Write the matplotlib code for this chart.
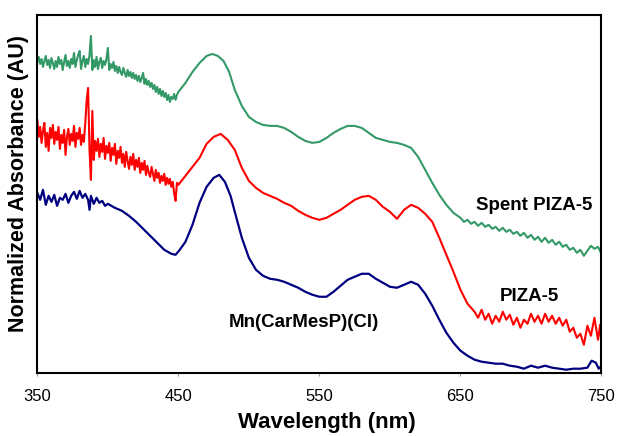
import matplotlib
matplotlib.use("Agg")
import matplotlib.pyplot as plt

plt.rcParams['font.family'] = ['Liberation Sans', 'DejaVu Sans']

# ---- data (wavelength in nm, normalized absorbance in arbitrary units) ----
spent_wl = list(range(350, 451)) + [
    455, 460, 465, 470, 474, 478, 482, 486,
    490, 495, 500, 505, 510, 515, 520, 525, 530, 535, 540, 545, 550, 555, 560,
    565, 570, 575, 580, 585, 590, 595, 600, 605, 610, 615, 620, 625, 630, 635,
    640, 645, 650, 652.5, 655, 657.5, 660, 662.5, 665, 667.5, 670, 672.5, 675,
    677.5, 680, 682.5, 685, 687.5, 690, 692.5, 695, 697.5, 700, 702.5, 705,
    707.5, 710, 712.5, 715, 717.5, 720, 722.5, 725, 727.5, 730, 732.5, 735,
    737.5, 740, 742.5, 745, 747.5, 750]
spent_abs = [
    311, 316, 309, 314, 306, 312, 317, 308, 313, 305, 315, 310, 304, 312, 306, 316,
    309, 313, 303, 311, 318, 307, 312, 305, 314, 309, 320, 306, 313, 318, 322, 304,
    312, 317, 306, 314, 309, 318, 337, 303, 313, 306, 316, 304, 311, 315, 305, 312,
    308, 314, 325, 303, 309, 305, 311, 302, 307, 300, 306, 301, 298, 305, 300, 296,
    303, 297, 301, 295, 300, 294, 298, 292, 297, 291, 295, 300, 289, 294, 288, 292,
    286, 290, 284, 288, 281, 286, 279, 284, 277, 282, 276, 280, 273, 278, 271, 276,
    274, 279, 273, 278, 281,
    290, 301, 310, 317, 319, 317, 312, 301,
    283, 267, 256, 251, 248, 247, 247, 245, 241, 236, 232, 230, 231, 235, 240,
    244, 247, 247, 245, 240, 235, 233, 231, 230, 228, 225, 216, 203, 190, 178,
    168, 160, 155, 151, 153, 149, 151, 147, 150, 146, 148, 144, 146,
    142, 145, 141, 143, 139, 141, 137, 140, 135, 138, 133, 136,
    131, 135, 130, 133, 128, 131, 126, 128, 123, 125, 120, 123,
    117, 122, 127, 124, 126, 119]

piza_wl = list(range(350, 451)) + [
    455, 460, 465, 470,
    475, 480, 485, 490, 495, 500, 505, 510, 515, 520, 525, 530, 535, 540, 545,
    550, 555, 560, 565, 570, 575, 580, 585, 590, 595, 600, 605, 610, 615, 620,
    625, 630, 635, 640, 645, 650, 655, 660, 662.5, 665, 667.5, 670, 672.5, 675,
    677.5, 680, 682.5, 685, 687.5, 690, 692.5, 695, 697.5, 700, 702.5, 705,
    707.5, 710, 712.5, 715, 717.5, 720, 722.5, 725, 727.5, 730, 732.5, 735,
    737.5, 740, 742.5, 745, 747.5, 749, 750]
piza_abs = [
    253, 236, 246, 230, 242, 250, 226, 240, 222, 245, 235, 248, 229, 241, 233, 246,
    224, 238, 230, 243, 218, 236, 244, 228, 239, 232, 247, 226, 240, 234, 245, 228,
    238, 231, 250, 273, 285, 223, 193, 262, 213, 232, 222, 234, 216, 229, 221, 235,
    214, 227, 220, 230, 212, 225, 218, 229, 209, 222, 215, 226, 210, 219, 206, 221,
    212, 204, 216, 208, 219, 203, 213, 206, 215, 200, 210, 203, 212, 198, 207, 200,
    196, 206, 199, 192, 203, 195, 200, 190, 197, 192, 199, 188, 195, 189, 194, 186,
    191, 180, 172, 190, 188,
    197, 206, 215, 229,
    236, 239, 233, 223, 205, 192, 185, 180, 177, 174, 170, 167, 162, 158, 155,
    153, 155, 159, 163, 168, 173, 176, 177, 173, 166, 161, 154, 163, 168, 165,
    159, 151, 135, 118, 101, 83, 69, 61, 55, 63, 53, 59, 49, 57,
    51, 61, 53, 58, 48, 55, 45, 53, 49, 59, 51, 57,
    49, 59, 51, 57, 49, 55, 47, 53, 41, 45, 35, 39,
    28, 47, 37, 55, 33, 48, 28]

mn_wl = [350, 352, 354, 356, 358, 360, 362, 364, 366, 368, 370, 372, 374, 376, 378,
         380, 382, 384, 386, 387, 388, 390, 392, 394, 396, 398, 400, 405, 410, 415,
         420, 425, 430, 435, 440, 445, 448, 451, 455, 460, 465, 470, 475, 479, 483,
         487, 490, 495, 500, 505, 510, 515, 520, 525, 530, 535, 540, 545, 550, 555,
         560, 565, 570, 575, 580, 585, 590, 595, 600, 605, 610, 615, 620, 625, 630,
         635, 640, 645, 650, 655, 660, 665, 670, 675, 680, 685, 690, 695, 700, 705,
         710, 715, 720, 725, 730, 735, 740, 743, 746, 748, 750]
mn_abs = [180, 173, 183, 168, 177, 171, 178, 167, 175, 173, 179, 170, 177, 181, 174,
          182, 175, 179, 173, 163, 177, 169, 175, 170, 172, 167, 169, 165, 162, 157,
          151, 144, 137, 130, 123, 119, 118, 123, 131, 148, 170, 186, 195, 198, 191,
          177, 161, 135, 115, 103, 97, 94, 93, 91, 88, 85, 81, 78, 76, 76,
          81, 87, 93, 96, 99, 99, 94, 90, 86, 85, 88, 91, 88, 79, 67,
          53, 40, 30, 22, 17, 13, 11, 10, 9, 9, 7, 6, 4, 7, 5,
          7, 5, 4, 3, 4, 4, 5, 12, 10, 4, 7]

series_labels = ["Spent PIZA-5", "PIZA-5", "Mn(CarMesP)(Cl)"]
x_ticks = [350, 450, 550, 650, 750]

# ---- figure ----
fig = plt.figure(figsize=(6.18, 4.36), dpi=100)
ax = fig.add_axes([0.0604, 0.1452, 0.9129, 0.8204])

ax.plot(spent_wl, spent_abs, color="#339966", lw=1.5)
ax.plot(piza_wl, piza_abs, color="#FF0000", lw=1.5)
ax.plot(mn_wl, mn_abs, color="#000080", lw=1.6)

ax.set_xlim(350, 750)
ax.set_ylim(0, 358)
ax.set_xticks(x_ticks)
ax.set_xticklabels([str(t) for t in x_ticks], fontsize=12)
ax.set_yticks([])
ax.tick_params(axis="x", direction="out", length=2.5, width=0.8, color="#999999", pad=9)
for s in ax.spines.values():
    s.set_linewidth(1.5)
    s.set_color("black")

ax.set_xlabel("Wavelength (nm)", fontsize=16, fontweight="bold")
ax.xaxis.set_label_coords(0.5135, -0.11)
ax.set_ylabel("Normalized Absorbance (AU)", fontsize=15.5, fontweight="bold")
ax.yaxis.set_label_coords(-0.014, 0.53)

ax.text(702, 167, series_labels[0], fontsize=13.5, fontweight="bold", ha="center", va="center")
ax.text(699, 76, series_labels[1], fontsize=13.5, fontweight="bold", ha="center", va="center")
ax.text(539, 50, series_labels[2], fontsize=13.5, fontweight="bold", ha="center", va="center")

fig.savefig("out.png", dpi=100)
